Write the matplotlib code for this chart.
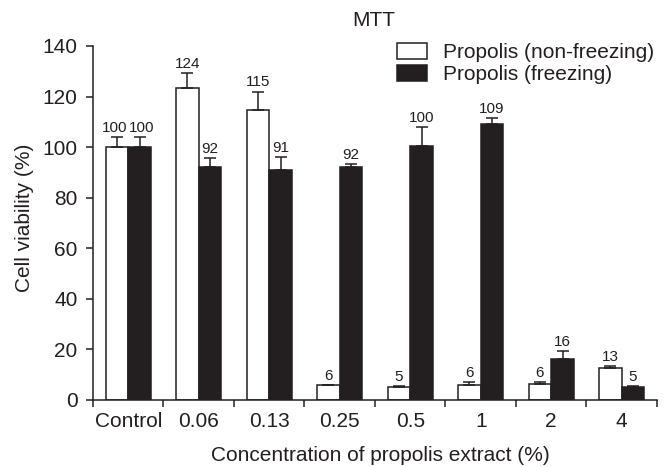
import numpy as np
from matplotlib import pyplot as plt
from matplotlib.patches import Patch

plt.rcParams['font.family'] = ['Liberation Sans', 'DejaVu Sans']

groups = ['Control', '0.06', '0.13', '0.25', '0.5', '1', '2', '4']
non_freezing = [100, 123.5, 114.5, 5.8, 5.0, 6.0, 6.2, 12.8]
non_freezing_err = [4, 6, 7.5, 0.3, 0.7, 1.2, 1.0, 0.6]
freezing = [100, 92.3, 91, 92, 100.5, 109, 16.3, 5.3]
freezing_err = [4, 3.5, 5, 1.3, 7.5, 2.5, 3, 0.3]
non_freezing_labels = ['100', '124', '115', '6', '5', '6', '6', '13']
freezing_labels = ['100', '92', '91', '92', '100', '109', '16', '5']

ink = '#231f20'
fig = plt.figure(figsize=(6.71, 4.67), dpi=100)
ax = fig.add_axes([0.1386, 0.1435, 0.8405, 0.758])

x = np.arange(len(groups))
w = 0.32
err_style = dict(ecolor=ink, elinewidth=1.1, capsize=4.5, capthick=1.1)
ax.bar(x - w / 2, non_freezing, w, color='white', edgecolor=ink,
       linewidth=1.1, yerr=[np.zeros(8), non_freezing_err], error_kw=err_style)
ax.bar(x + w / 2, freezing, w, color=ink, edgecolor=ink,
       linewidth=1.1, yerr=[np.zeros(8), freezing_err], error_kw=err_style)

for i in range(len(groups)):
    # control labels sit side by side, push them apart a touch
    nudge = 0.03 if i == 0 else 0
    ax.text(x[i] - w / 2 - nudge, non_freezing[i] + non_freezing_err[i] + 0.8,
            non_freezing_labels[i], ha='center', va='bottom', fontsize=11,
            color=ink)
    ax.text(x[i] + w / 2 + nudge, freezing[i] + freezing_err[i] + 0.8,
            freezing_labels[i], ha='center', va='bottom', fontsize=11,
            color=ink)

ax.set_xlim(-0.5, len(groups) - 0.5)
ax.set_ylim(0, 140)
ax.set_yticks(range(0, 141, 20))
ax.set_xticks(np.arange(len(groups) + 1) - 0.5)
ax.set_xticklabels([])
ax.set_xticks(x, minor=True)
ax.set_xticklabels(groups, minor=True)
ax.tick_params(axis='x', which='major', length=5, width=1.1, color=ink)
ax.tick_params(axis='x', which='minor', length=0, pad=9, labelsize=15,
               labelcolor=ink)
ax.tick_params(axis='y', length=5, width=1.1, pad=6, labelsize=15,
               color=ink, labelcolor=ink)

for s in ['top', 'right']:
    ax.spines[s].set_visible(False)
for s in ['left', 'bottom']:
    ax.spines[s].set_linewidth(1.1)
    ax.spines[s].set_color(ink)

ax.set_xlabel('Concentration of propolis extract (%)', fontsize=15, color=ink)
ax.xaxis.set_label_coords(0.51, -0.13)
ax.set_ylabel('Cell viability (%)', fontsize=15, color=ink)
ax.yaxis.set_label_coords(-0.104, 0.515)
fig.text(374 / 671, 1 - 20 / 467, 'MTT', ha='center', va='center',
         fontsize=15, color=ink)

handles = [Patch(facecolor='white', edgecolor=ink, linewidth=1.1),
           Patch(facecolor=ink, edgecolor=ink, linewidth=1.1)]
ax.legend(handles, ['Propolis (non-freezing)', 'Propolis (freezing)'],
          loc='upper left', bbox_to_anchor=(397 / 671, 1 - 43 / 467),
          bbox_transform=fig.transFigure, frameon=False, borderpad=0,
          borderaxespad=0, fontsize=15, handlelength=1.45,
          handleheight=0.77, handletextpad=0.75, labelspacing=0.15,
          labelcolor=ink)

fig.savefig('out.png', dpi=100)
